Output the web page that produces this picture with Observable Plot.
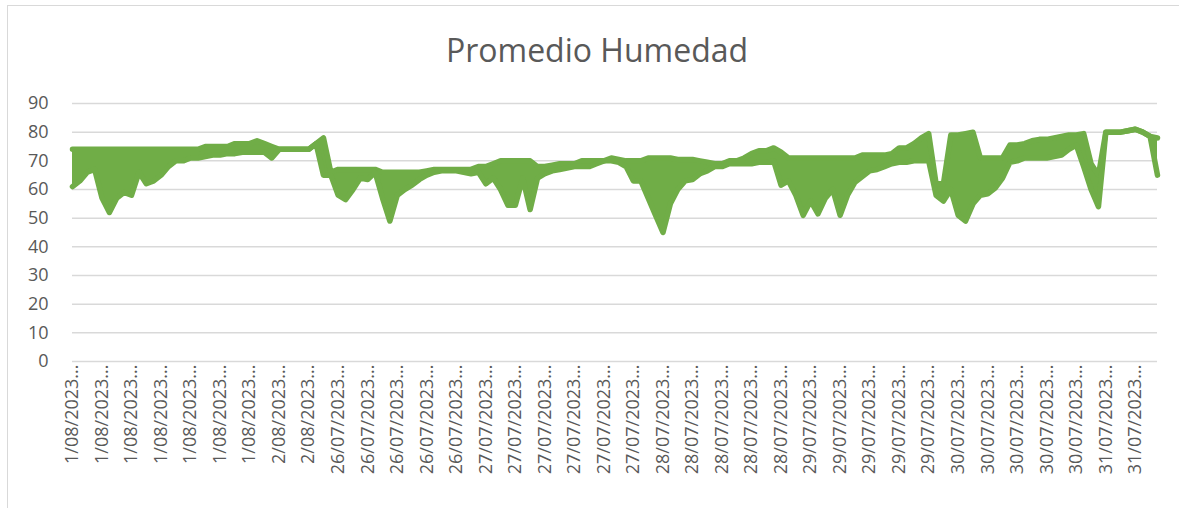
<!DOCTYPE html>
<html>
<head>
<meta charset="utf-8">
<script src="https://cdn.jsdelivr.net/npm/d3@7"></script>
<script src="https://cdn.jsdelivr.net/npm/@observablehq/plot@0.6"></script>
<style>
  html, body { margin: 0; padding: 0; background: #fff; }
  #frame { position: relative; width: 1179px; height: 508px; overflow: hidden; }
  #border { position: absolute; left: 7px; top: 5px; width: 1200px; height: 520px; border-left: 1px solid #D9D9D9; border-top: 1px solid #D9D9D9; }
  #title { position: absolute; top: 34px; left: 597px; transform: translateX(-50%); white-space: nowrap;
           font-family: "Open Sans", sans-serif; font-size: 32px; line-height: 1; color: #595959; }
  #plot { position: absolute; left: 0; top: 80px; }
</style>
</head>
<body>
<div id="frame">
  <div id="border"></div>
  <div id="title">Promedio Humedad</div>
  <div id="plot"></div>
</div>
<script>
// Category labels (every 4th time slot carries a label)
const fechas = [
  "1/08/2023...","1/08/2023...","1/08/2023...","1/08/2023...","1/08/2023...","1/08/2023...","1/08/2023...",
  "2/08/2023...","2/08/2023...",
  "26/07/2023...","26/07/2023...","26/07/2023...","26/07/2023...","26/07/2023...",
  "27/07/2023...","27/07/2023...","27/07/2023...","27/07/2023...","27/07/2023...","27/07/2023...",
  "28/07/2023...","28/07/2023...","28/07/2023...","28/07/2023...","28/07/2023...",
  "29/07/2023...","29/07/2023...","29/07/2023...","29/07/2023...","29/07/2023...",
  "30/07/2023...","30/07/2023...","30/07/2023...","30/07/2023...","30/07/2023...",
  "31/07/2023...","31/07/2023..."
];
const pasoEtiqueta = 4;

// Promedio Humedad: upper and lower extent of the (very dense) series in each time slot
const humedadMax = [
  74,74,74,74,74,74,74,74,74,74,
  74,74,74,74,74,74,74,74,75,75,
  75,75,76,76,76,77,76,75,74,74,
  74,74,74,76,78,66,67,67,67,67,
  67,67,66,66,66,66,66,66,66.5,67,
  67,67,67,67,67,68,68,69,70,70,
  70,70,70,68,68,68.5,69,69,69,70,
  70,70,70,71,70.5,70,70,70,71,71,
  71,71,70.5,70.5,70.5,70,69.5,69,69,70,
  70,71,72.5,73.5,73.5,74.5,73,71,71,71,
  71,71,71,71,71,71,71,72,72,72,
  72,72.5,74.5,74.5,76,78,79.5,62,62,79,
  79,79.5,80,71,71,71,71,75.5,75.5,76,
  77,77.5,77.5,78,78.5,79,79,79.5,69,65,
  80,80,80,80.5,81,80,78.5,78
];
const humedadMin = [
  61,63,66,67,57,52,57,59,58,66,
  62,63,65,68,70,70,71,71,71.5,72,
  72,72.5,72.5,73,73,73,73,71,74,74,
  74,74,74,76,65,65,58,56.5,60,64,
  63.5,66,57,49,58,60,61.5,63.5,65,66,
  66.5,66.5,66.5,66,65.5,66,62,64,60,54.5,
  54.5,64,53,64,65.5,66.5,67,67.5,68,68,
  68,69,70,70,69.5,68,63,63,57,51,
  45,55,60,63,63.5,65.5,66.5,68,68,69,
  69,69,69,69.5,69.5,70,61.5,63,58,51,
  56,51.5,57,60,51,58,62.5,64.5,66.5,67,
  68,69,69.5,69.5,70,70,70,58,56,60,
  51,49,55,58,58.5,60.5,64,69.5,70,71,
  71,71,71,71.5,72,74,75.5,68,60,54,
  80,80,80,80.5,81,80,78.5,65
];

const yTicks = [0,10,20,30,40,50,60,70,80,90];

const data = humedadMax.map((hi, i) => ({i, hi, lo: humedadMin[i]}));
const xTicks = fechas.map((_, k) => k * pasoEtiqueta);
const verde = "#70AD47";

const chart = Plot.plot({
  width: 1179,
  height: 428,
  marginTop: 23,
  marginBottom: 147,
  marginLeft: 72,
  marginRight: 22,
  style: { fontFamily: "'Open Sans', sans-serif", color: "#595959", background: "transparent" },
  x: { type: "linear", domain: [0, humedadMax.length - 1], axis: null, label: null },
  y: { domain: [0, 90], axis: null, label: null },
  marks: [
    Plot.ruleY(yTicks, { stroke: "#D9D9D9", strokeWidth: 1.5 }),
    Plot.areaY(data, { x: "i", y1: "lo", y2: "hi", fill: verde }),
    Plot.lineY(data, { x: "i", y: "hi", stroke: verde, strokeWidth: 5.5, strokeLinejoin: "round", strokeLinecap: "round" }),
    Plot.lineY(data, { x: "i", y: "lo", stroke: verde, strokeWidth: 5.5, strokeLinejoin: "round", strokeLinecap: "round" }),
    Plot.axisY({ ticks: yTicks, tickSize: 0, tickPadding: 24, fontSize: 18, label: null, tickFormat: d => String(d) }),
    Plot.axisX({ ticks: xTicks, tickSize: 0, tickPadding: 3, tickRotate: -90, fontSize: 18, label: null,
                 tickFormat: i => fechas[i / pasoEtiqueta] })
  ]
});
document.getElementById("plot").appendChild(chart);
</script>
</body>
</html>
